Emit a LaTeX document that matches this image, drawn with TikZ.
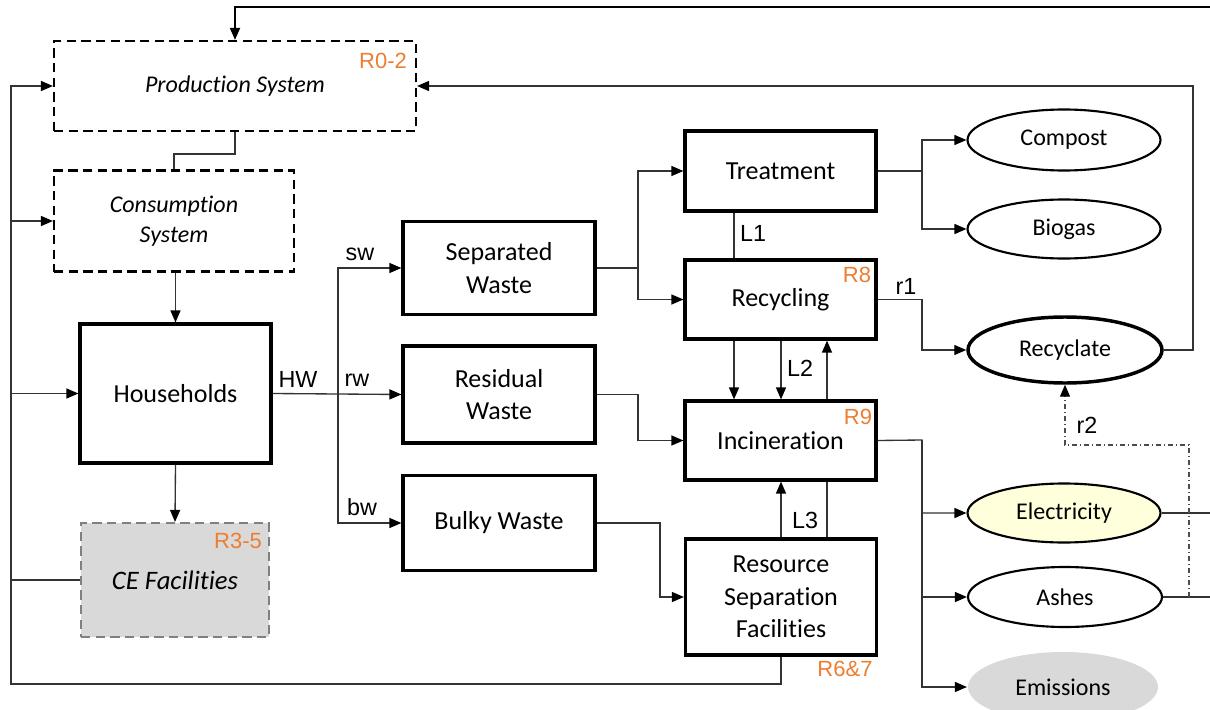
\documentclass[tikz,border=0pt]{standalone}
\usepackage{fontspec}
\setmainfont{Carlito}[Ligatures={NoCommon,NoContextual}]
\newfontfamily\labfont{Liberation Sans}
\usetikzlibrary{arrows.meta,shapes.geometric}
\definecolor{orng}{HTML}{ED7D31}
\definecolor{cegray}{HTML}{D9D9D9}
\definecolor{cebord}{HTML}{808080}
\definecolor{elecfill}{HTML}{FFFFDC}
\definecolor{linec}{HTML}{333333}
\begin{document}
\begin{tikzpicture}[x=0.75pt,y=-0.75pt,
  sz/.style 2 args={minimum width=#1*0.75pt,minimum height=#2*0.75pt},
  box/.style={draw,line width=2.4pt,inner sep=0pt,align=center,font=\fontsize{19.5}{24.5}\selectfont},
  dbox/.style={draw,line width=1.6pt,dash pattern=on 7pt off 4pt,inner sep=0pt,align=center,font=\fontsize{18}{22.5}\selectfont\itshape},
  oval/.style={ellipse,draw,line width=1.6pt,inner sep=0pt,font=\fontsize{18}{22}\selectfont},
  conn/.style={line width=1pt,draw=linec},
  arr/.style={conn,-{Triangle[length=9pt,width=7.5pt,color=black]}},
  lab/.style={font=\labfont\fontsize{17.5}{20}\selectfont,inner sep=0pt},
  rlab/.style={font=\labfont\fontsize{16.5}{19}\selectfont,text=orng,inner sep=0pt}
]
\clip (0,0) rectangle (1210,710);
% nodes
\node[dbox,sz={362}{90}] (prod) at (235,86) {\raisebox{-2.5pt}{Production System}};
\node[dbox,sz={240}{101}] (cons) at (174,221) {Consumption\\System};
\node[box,sz={191}{139}] (hh) at (175.5,393.5) {Households};
\node[dbox,sz={188}{114},draw=cebord,fill=cegray,font=\fontsize{20}{24}\selectfont\itshape] (ce) at (175,580) {CE Facilities};
\node[box,sz={192}{93}] (sep) at (499,268) {Separated\\Waste};
\node[box,sz={192}{97}] (res) at (499,394.5) {Residual\\Waste};
\node[box,sz={192}{95}] (bulky) at (499,523) {Bulky Waste};
\node[box,sz={191}{80}] (treat) at (780.5,171) {Treatment};
\node[box,sz={191}{79}] (recyc) at (780.5,299.5) {Recycling};
\node[box,sz={191}{79}] (incin) at (780.5,440.5) {Incineration};
\node[box,sz={191}{116}] (rsf) at (781,597) {Resource\\Separation\\Facilities};
\node[oval,sz={193}{61}] (compost) at (1064,140) {Compost};
\node[oval,sz={193}{59}] (biogas) at (1064,229) {Biogas};
\node[oval,sz={194}{66},line width=2.6pt] (recyclate) at (1065,350) {Recyclate};
\node[oval,sz={193}{59},fill=elecfill] (elec) at (1064,513) {Electricity};
\node[oval,sz={194}{60}] (ashes) at (1065,597) {Ashes};
\node[oval,sz={190}{70},draw=none,fill=cegray] (emis) at (1063,687) {Emissions};
% orange labels
\node[rlab] (r02) at (383,61) {R0-2};
\node[rlab] (r35) at (238,541) {R3-5};
\node[rlab] (r8) at (857,275) {R8};
\node[rlab] (r9) at (858,417) {R9};
\node[rlab] (r67) at (845,669) {R6\&7};
% helper coordinates
\coordinate (topR) at (1212,7);
\coordinate (xL) at (11,0);
\coordinate (xA) at (734,0);
\coordinate (xB) at (781,0);
\coordinate (xC) at (827,0);
\coordinate (split) at (338,394);
\coordinate (jSep) at (638,268);
\coordinate (jTr) at (922,171);
\coordinate (jIn) at (922,440);
\coordinate (eR) at (1212,513);
\coordinate (aR) at (1212,597);
\coordinate (rR) at (1193,350);
\coordinate (bot) at (11,684);
\coordinate (dd) at (1189,597);
\coordinate (ddt) at (1189,445);
% connectors
\draw[arr,line width=1.4pt,draw=black] (topR) -| (prod.north);
\draw[arr] (recyclate.east) -- (rR) |- (prod.east);
\draw[arr] (rsf.south) |- (bot) |- (prod.west);
\draw[arr] (cons.west -| xL) -- (cons.west);
\draw[arr] (hh.west -| xL) -- (hh.west);
\draw[conn] (ce.west) -- (ce.west -| xL);
\draw[conn] (prod.south) -- ++(0,22) -| (cons.north);
\draw[arr] (hh.north |- cons.south) -- (hh.north);
\draw[arr] (hh.south) -- (ce.north);
\draw[conn] (hh.east) -- (split);
\draw[arr] (split) |- (sep.west);
\draw[arr] (split) -- (res.west);
\draw[arr] (split) |- (bulky.west);
\draw[arr] (sep.east) -- (jSep) |- (treat.west);
\draw[arr] (jSep) |- (recyc.west);
\draw[arr] (res.east) -| (jSep |- incin.west) -- (incin.west);
\draw[arr] (bulky.east) -| (660,597) -- (rsf.west);
\draw[conn] (treat.south -| xA) -- (recyc.north -| xA);
\draw[arr] (recyc.south -| xA) -- (incin.north -| xA);
\draw[arr] (recyc.south -| xB) -- (incin.north -| xB);
\draw[arr] (incin.north -| xC) -- (recyc.south -| xC);
\draw[arr] (rsf.north -| xB) -- (incin.south -| xB);
\draw[conn] (rsf.north -| xC) -- (incin.south -| xC);
\draw[arr] (treat.east) -- (jTr) |- (compost.west);
\draw[arr] (jTr) |- (biogas.west);
\draw[arr] (recyc.east) -| (922,350) -- (recyclate.west);
\draw[arr] (incin.east) -- (jIn) |- (elec.west);
\draw[arr] (jIn) |- (ashes.west);
\draw[arr] (jIn) |- (emis.west);
\draw[conn] (elec.east) -- (eR);
\draw[conn] (ashes.east) -- (aR);
\draw[arr,draw=black!70,dash pattern=on 4pt off 2pt on 1pt off 2pt] (dd) -- (ddt) -| (recyclate.south);
% flow labels
\node[lab] (lHW) at (298,379) {HW};
\node[lab] (lsw) at (360,254) {sw};
\node[lab] (lrw) at (357,380) {rw};
\node[lab] (lbw) at (362,507) {bw};
\node[lab] (lL1) at (753,233) {L1};
\node[lab] (lL2) at (800,368) {L2};
\node[lab] (lL3) at (805,520) {L3};
\node[lab] (lr1) at (906,286) {r1};
\node[lab] (lr2) at (1087,425) {r2};
\end{tikzpicture}
\end{document}
